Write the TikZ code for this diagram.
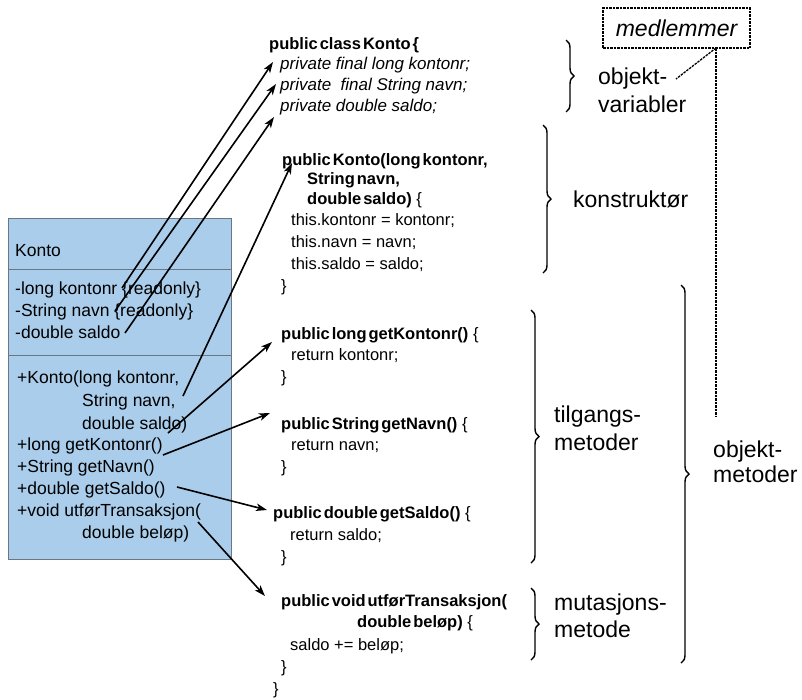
\documentclass[tikz,border=0pt]{standalone}
\usepackage{fontspec}
\setmainfont{Liberation Sans}
\usetikzlibrary{arrows.meta,decorations.pathreplacing}
\definecolor{umlfill}{RGB}{169,205,234}
\definecolor{umledge}{RGB}{105,118,132}
\newcommand{\tightsp}{\spaceskip=0.12em\relax}
\begin{document}
\begin{tikzpicture}[x=1pt,y=-1pt,
  cls/.style={anchor=base west,inner sep=0pt,font=\fontsize{17.5}{20}\selectfont},
  code/.style={anchor=base west,inner sep=0pt,font=\fontsize{16.5}{19}\selectfont},
  codeb/.style={anchor=base west,inner sep=0pt,font=\fontsize{16.5}{19}\selectfont\bfseries\tightsp},
  codei/.style={anchor=base west,inner sep=0pt,font=\fontsize{17}{19}\selectfont\itshape},
  lbl/.style={anchor=base west,inner sep=0pt,font=\fontsize{23}{27}\selectfont},
  arr/.style={-{Stealth[length=11pt,width=7.5pt,inset=3pt]},line width=1.6pt},
  brc/.style={decorate,decoration={brace,amplitude=8pt},line width=1.4pt},
  dsh/.style={dash pattern=on 2.5pt off 1pt,line width=1.3pt}]
\useasboundingbox (0,0) rectangle (802,699);

% UML class box
\path[fill=umlfill,draw=umledge,line width=0.9pt] (8,218) rectangle (231,559);
\draw[umledge,line width=0.9pt] (8,269) -- (231,269);
\draw[umledge,line width=0.9pt] (8,355) -- (231,355);
\node[cls] (kname) at (15,256) {Konto};
\node[cls] (a1) at (15,294) {-long kontonr {\{}readonly{\}}};
\node[cls] (a2) at (15,316) {-String navn {\{}readonly{\}}};
\node[cls] (a3) at (15,338) {-double saldo};
\node[cls] (m1) at (17,383) {+Konto(long kontonr,};
\node[cls] (m1b) at (82,406) {String navn,};
\node[cls] (m1c) at (82,429) {double saldo)};
\node[cls] (m2) at (17,450) {+long getKontonr()};
\node[cls] (m3) at (17,472) {+String getNavn()};
\node[cls] (m4) at (17,494) {+double getSaldo()};
\node[cls] (m5) at (17,516) {+void utførTransaksjon(};
\node[cls] (m5b) at (82,538) {double beløp)};

% Java code
\node[codeb] (c0) at (269,49.5) {public class Konto \{};
\node[codei] (v1) at (280,69.5) {private final long kontonr;};
\node[codei] (v2) at (280,90.5) {private\ \ final String navn;};
\node[codei] (v3) at (280,111.5) {private double saldo;};

\node[codeb] (k1) at (282,165.5) {public Konto(long kontonr,};
\node[codeb] (k2) at (307,184.5) {String navn,};
\node[code] (k3) at (307,204.5) {{\bfseries\tightsp double saldo)} \{};
\node[code] (k4) at (291,225.5) {this.kontonr = kontonr;};
\node[code] (k5) at (291,247.5) {this.navn = navn;};
\node[code] (k6) at (291,269.5) {this.saldo = saldo;};
\node[code] (k7) at (281,291.5) {\}};

\node[code] (g1) at (281,339.5) {{\bfseries\tightsp public long getKontonr()} \{};
\node[code] (g1b) at (291,360.5) {return kontonr;};
\node[code] (g1c) at (281,382.5) {\}};

\node[code] (g2) at (281,429.5) {{\bfseries\tightsp public String getNavn()} \{};
\node[code] (g2b) at (291,450.5) {return navn;};
\node[code] (g2c) at (281,472.5) {\}};

\node[code] (g3) at (273,518.5) {{\bfseries\tightsp public double getSaldo()} \{};
\node[code] (g3b) at (290,540.5) {return saldo;};
\node[code] (g3c) at (281,562.5) {\}};

\node[codeb] (u1) at (281,606.5) {public void utførTransaksjon(};
\node[code] (u2) at (357,627.5) {{\bfseries\tightsp double beløp)} \{};
\node[code] (u3) at (290,650.5) {saldo += beløp;};
\node[code] (u4) at (281,672.5) {\}};
\node[code] (u5) at (273,694.5) {\}};

% labels
\node[lbl] (l1) at (598,84.6) {objekt-};
\node[lbl] (l1b) at (598,112.6) {variabler};
\node[lbl] (l2) at (573,207.6) {konstruktør};
\node[lbl] (l3) at (554,422.6) {tilgangs-};
\node[lbl] (l3b) at (554,450.6) {metoder};
\node[lbl] (l4) at (554,610.6) {mutasjons-};
\node[lbl] (l4b) at (554,637.6) {metode};
\node[lbl] (l5) at (713,457.6) {objekt-};
\node[lbl] (l5b) at (713,482.6) {metoder};

% braces
\coordinate (b1t) at (566,40);  \coordinate (b1b) at (566,112);
\coordinate (b2t) at (543,125); \coordinate (b2b) at (543,273);
\coordinate (b3t) at (531,310); \coordinate (b3b) at (531,563);
\coordinate (b4t) at (531,588); \coordinate (b4b) at (531,660);
\coordinate (b5t) at (681,285); \coordinate (b5b) at (681,663);
\draw[brc] (b1t) -- (b1b);
\draw[brc] (b2t) -- (b2b);
\draw[brc] (b3t) -- (b3b);
\draw[brc] (b4t) -- (b4b);
\draw[brc] (b5t) -- (b5b);

% medlemmer
\node[draw,dsh,minimum width=147pt,minimum height=40pt,inner sep=0pt,
      font=\fontsize{23}{27}\selectfont\itshape] (med) at (676.5,28) {medlemmer};
\coordinate (mj) at (716,48);
\coordinate (mv) at (716,416);
\coordinate (md) at (676,79);
\draw[dsh] (mj) -- (mv);
\draw[dsh] (mj) -- (md);

% arrows
\coordinate (t1) at (122,288); \coordinate (h1) at (273,62);
\coordinate (t2) at (115,311); \coordinate (h2) at (276,84);
\coordinate (t3) at (125,333); \coordinate (h3) at (274,117);
\coordinate (t4) at (183,396); \coordinate (h4) at (292,163);
\coordinate (t5) at (168,433); \coordinate (h5) at (272,342);
\coordinate (t6) at (163,455); \coordinate (h6) at (270,413);
\coordinate (t7) at (177,487); \coordinate (h7) at (267,510);
\coordinate (t8) at (198,522); \coordinate (h8) at (265,596);
\foreach \i in {1,...,8} {\draw[arr] (t\i) -- (h\i);}
\end{tikzpicture}
\end{document}
